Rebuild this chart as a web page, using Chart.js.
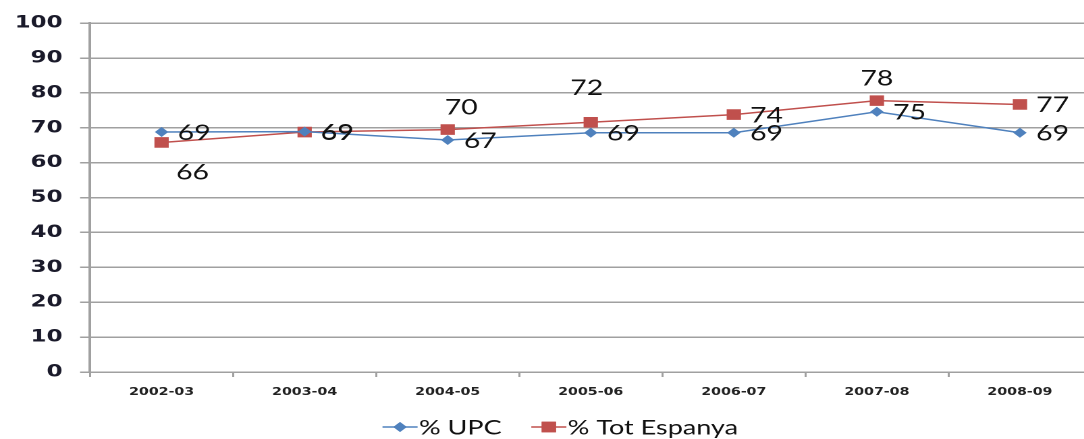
<!DOCTYPE html>
<html>
<head>
<meta charset="utf-8">
<script src="https://cdn.jsdelivr.net/npm/chart.js@4"></script>
<style>
  html, body { margin: 0; padding: 0; background: #fff; overflow: hidden; }
  #wrap { width: 1084px; height: 439px; overflow: hidden; }
  #stretch { transform: scaleX(1.35); transform-origin: 0 0; width: 816px; height: 439px; }
</style>
</head>
<body>
<div id="wrap"><div id="stretch"><canvas id="chart" width="816" height="439"></canvas></div></div>
<script>
// Dades llegides del gràfic
const cursos = ["2002-03", "2003-04", "2004-05", "2005-06", "2006-07", "2007-08", "2008-09"];
const upc = [68.8, 68.9, 66.5, 68.6, 68.6, 74.6, 68.6];
const totEspanya = [65.8, 68.8, 69.5, 71.6, 73.8, 77.8, 76.7];
const yTicks = [0, 10, 20, 30, 40, 50, 60, 70, 80, 90, 100];

// On va l'etiqueta de cada punt (% Tot Espanya)
const posEspanya = ["below", "right", "above", "above2", "right", "above", "right"];

const blau = "#4F81BD";
const vermell = "#C0504D";
const gris = "#a0a0a0";

// Etiquetes de dades (com a Excel)
const etiquetes = {
  id: "etiquetes",
  afterDatasetsDraw(chart) {
    const ctx = chart.ctx;
    ctx.save();
    ctx.font = "21px Lato";
    ctx.fillStyle = "#111";
    ctx.textBaseline = "middle";
    chart.data.datasets.forEach((ds, i) => {
      const meta = chart.getDatasetMeta(i);
      meta.data.forEach((pt, j) => {
        const txt = String(Math.round(ds.data[j]));
        const pos = i === 0 ? "right" : posEspanya[j];
        if (pos === "right") {
          ctx.textAlign = "left";
          ctx.fillText(txt, pt.x + 12, pt.y + 1);
        } else if (pos === "below") {
          ctx.textAlign = "center";
          ctx.fillText(txt, pt.x + 23, pt.y + 30);
        } else if (pos === "above2") {
          ctx.textAlign = "center";
          ctx.fillText(txt, pt.x - 3, pt.y - 34);
        } else {
          ctx.textAlign = "center";
          ctx.fillText(txt, pt.x + (j === 2 ? 10 : 0), pt.y - 22);
        }
      });
    });
    ctx.restore();
  }
};

// Llegenda amb línia + marcador
const llegenda = {
  id: "llegenda",
  afterDraw(chart) {
    const ctx = chart.ctx;
    ctx.save();
    ctx.font = "20px Lato";
    ctx.textBaseline = "middle";
    const y = 427;
    const lineLen = 26, gap = 1, sep = 22;
    const items = chart.data.datasets.map(ds => ({
      ds: ds,
      w: lineLen + gap + ctx.measureText(ds.label).width
    }));
    const total = items.reduce((a, b) => a + b.w, 0) + sep * (items.length - 1);
    let x = 415 - total / 2;
    items.forEach(it => {
      ctx.strokeStyle = it.ds.borderColor;
      ctx.lineWidth = 1.5;
      ctx.beginPath();
      ctx.moveTo(x, y);
      ctx.lineTo(x + lineLen, y);
      ctx.stroke();
      ctx.fillStyle = it.ds.pointBackgroundColor;
      Chart.helpers.drawPoint(ctx, {
        pointStyle: it.ds.pointStyle,
        radius: it.ds.pointRadius,
        borderWidth: 0
      }, x + lineLen / 2, y);
      ctx.fill();
      ctx.fillStyle = "#111";
      ctx.textAlign = "left";
      ctx.fillText(it.ds.label, x + lineLen + gap, y + 1);
      x += it.w + sep;
    });
    ctx.restore();
  }
};

new Chart(document.getElementById("chart"), {
  type: "line",
  data: {
    labels: cursos,
    datasets: [
      {
        label: "% UPC",
        data: upc,
        borderColor: blau,
        backgroundColor: blau,
        pointBackgroundColor: blau,
        pointBorderColor: blau,
        pointStyle: "rectRot",
        pointRadius: 5,
        pointBorderWidth: 0,
        borderWidth: 1.5,
        tension: 0
      },
      {
        label: "% Tot Espanya",
        data: totEspanya,
        borderColor: vermell,
        backgroundColor: vermell,
        pointBackgroundColor: vermell,
        pointBorderColor: vermell,
        pointStyle: "rect",
        pointRadius: 7.5,
        pointBorderWidth: 0,
        borderWidth: 1.5,
        tension: 0
      }
    ]
  },
  options: {
    responsive: false,
    animation: false,
    devicePixelRatio: 2,
    layout: { padding: { top: 22, right: 0, bottom: 37, left: 0 } },
    plugins: {
      legend: { display: false },
      tooltip: { enabled: false }
    },
    scales: {
      x: {
        offset: true,
        afterFit: s => { s.height = 30; },
        grid: { display: true, drawOnChartArea: false, drawTicks: true, tickLength: 5, offset: true, color: gris, lineWidth: 1.5 },
        border: { display: true, color: gris, width: 1.5 },
        ticks: { color: "#222", font: { family: "DejaVu Sans", weight: "bold", size: 10.5 }, padding: 9, maxRotation: 0 }
      },
      y: {
        min: 0,
        max: 100,
        afterFit: s => { s.width = 66.7; },
        afterBuildTicks: s => { s.ticks = yTicks.map(v => ({ value: v })); },
        grid: { color: gris, lineWidth: 1.5, tickLength: 7.4 },
        border: { display: true, color: gris, width: 2 },
        ticks: { color: "#1a1a2a", font: { family: "DejaVu Sans", weight: "bold", size: 17 }, padding: 13 }
      }
    }
  },
  plugins: [etiquetes, llegenda]
});
</script>
</body>
</html>
